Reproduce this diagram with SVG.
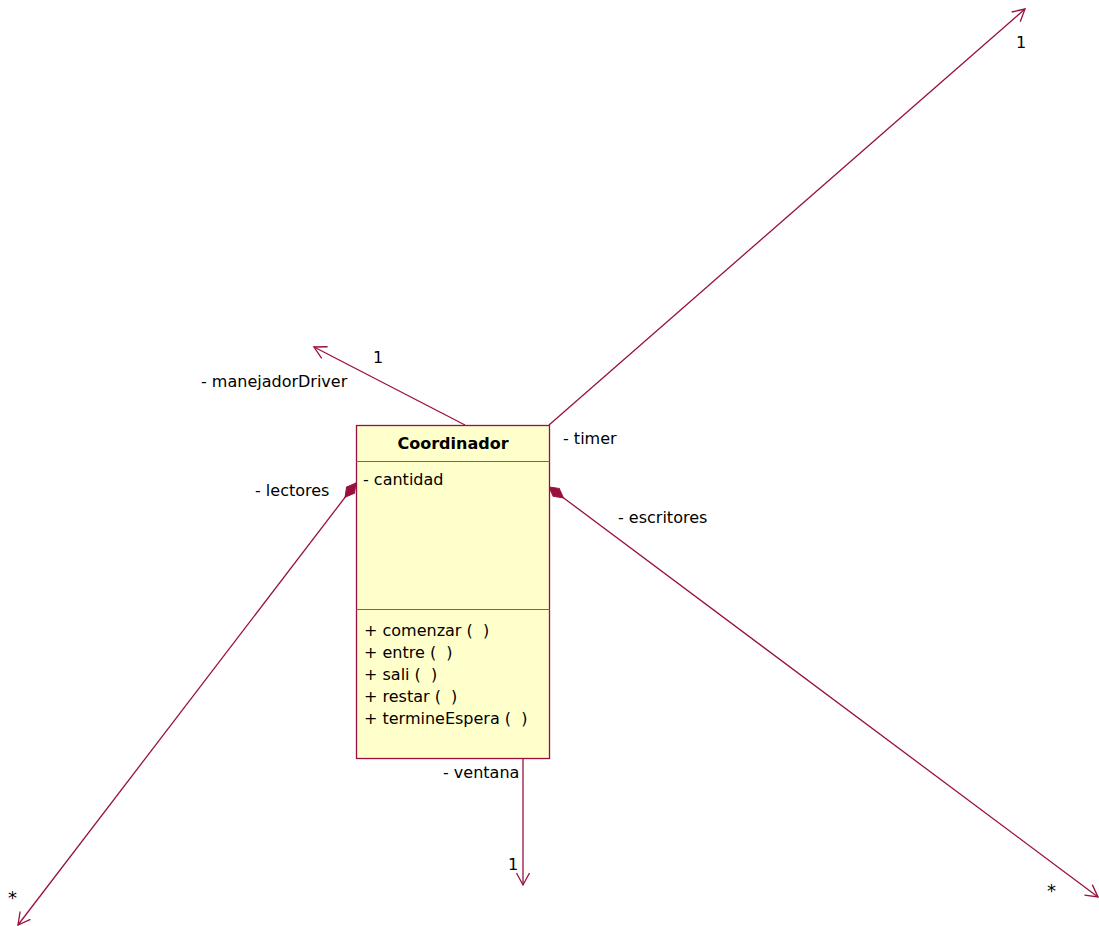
<svg xmlns="http://www.w3.org/2000/svg" width="1099" height="926" viewBox="0 0 1099 926">
  <style>
    text { font-family: "DejaVu Sans", Verdana, sans-serif; font-size: 16px; fill: #000; white-space: pre; }
    .title { font-weight: bold; }
    .star { font-size: 18px; }
    .edge { fill: none; stroke: #99103f; stroke-width: 1.3; }
    .box { fill: #ffffcc; stroke: #99103f; stroke-width: 1.3; }
    .div { stroke: #c04060; stroke-width: 1.2; }
  </style>
  <defs>
    <marker id="open" viewBox="-14 -8 16 16" refX="0" refY="0" markerWidth="16" markerHeight="16" markerUnits="userSpaceOnUse" orient="auto">
      <path d="M -12 -6.5 L 0 0 L -12 6.5" fill="none" stroke="#99103f" stroke-width="1.3"/>
    </marker>
    <marker id="diamond" viewBox="-1 -7 22 14" refX="0" refY="0" markerWidth="22" markerHeight="14" markerUnits="userSpaceOnUse" orient="auto">
      <path d="M 0 0 L 9 -5 L 18 0 L 9 5 Z" fill="#99103f" stroke="#99103f" stroke-width="1"/>
    </marker>
  </defs>

  <g id="connectors">
    <path class="edge" d="M 465 425 L 314 347" marker-end="url(#open)"/>
    <path class="edge" d="M 549 425 L 1025 9" marker-end="url(#open)"/>
    <path class="edge" d="M 356 483 L 18 925" marker-start="url(#diamond)" marker-end="url(#open)"/>
    <path class="edge" d="M 549 487 L 1098 897" marker-start="url(#diamond)" marker-end="url(#open)"/>
    <path class="edge" d="M 523 758 L 523 885" marker-end="url(#open)"/>

    <text x="373" y="363">1</text>
    <text x="201" y="387">- manejadorDriver</text>
    <text x="563" y="444">- timer</text>
    <text x="1016" y="48">1</text>
    <text x="255" y="496">- lectores</text>
    <text x="618" y="523">- escritores</text>
    <text x="443" y="778">- ventana</text>
    <text x="508" y="870">1</text>
    <text class="star" x="8" y="904">*</text>
    <text class="star" x="1047" y="897">*</text>
  </g>

  <g id="Coordinador">
    <rect class="box" x="356.5" y="425.5" width="193" height="333"/>
    <line class="div" x1="356.5" y1="461.5" x2="549.5" y2="461.5"/>
    <line class="div" x1="356.5" y1="609.5" x2="549.5" y2="609.5"/>
    <text class="title" x="453" y="449" text-anchor="middle">Coordinador</text>
    <text x="363" y="485">- cantidad</text>
    <text x="364" y="636">+ comenzar (  )</text>
    <text x="364" y="658">+ entre (  )</text>
    <text x="364" y="680">+ sali (  )</text>
    <text x="364" y="702">+ restar (  )</text>
    <text x="364" y="724">+ termineEspera (  )</text>
  </g>
</svg>
